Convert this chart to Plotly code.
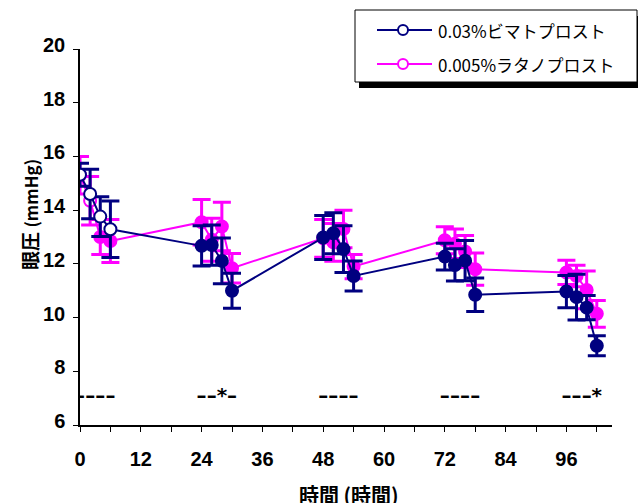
import plotly.graph_objects as go

# ---------------- data ----------------
times = [0, 2, 4, 6, 24, 26, 28, 30, 48, 50, 52, 54, 72, 74, 76, 78, 96, 98, 100, 102]

bim_mean = [15.32, 14.60, 13.76, 13.29, 12.67, 12.70, 12.11, 11.00,
            12.98, 13.14, 12.55, 11.55, 12.27, 11.96, 12.12, 10.85,
            10.97, 10.76, 10.37, 8.95]
bim_err = [0.43, 0.92, 0.74, 1.05, 0.75, 0.75, 0.85, 0.65,
           0.82, 0.76, 0.87, 0.56, 0.50, 0.60, 0.75, 0.62,
           0.60, 0.85, 0.45, 0.37]
bim_open = [True, True, True, True] + [False] * 16

lat_mean = [15.30, 14.35, 13.00, 12.85, 13.55, 12.90, 13.39, 11.84,
            12.95, 12.80, 13.30, 11.90, 12.88, 12.75, 12.46, 11.80,
            11.68, 11.55, 11.03, 10.14]
lat_err = [0.70, 0.90, 0.65, 0.80, 0.85, 0.80, 0.90, 0.55,
           0.70, 0.70, 0.70, 0.45, 0.50, 0.55, 0.60, 0.60,
           0.45, 0.40, 0.70, 0.50]
lat_open = [True, True] + [False] * 18

sig_marks = ["–", "–", "–", "–", "–", "–", "*", "–", "–", "–", "–", "–",
             "–", "–", "–", "–", "–", "–", "–", "*"]
sig_level = 7.05

names = ["0.03%ビマトプロスト", "0.005%ラタノプロスト"]
colors = ["#000080", "#FF00FF"]

x_ticks = [0, 12, 24, 36, 48, 60, 72, 84, 96]
y_ticks = [6, 8, 10, 12, 14, 16, 18, 20]

# ---------------- figure ----------------
fig = go.Figure()

def add_series(mean, err, open_flags, color):
    fill = ["white" if o else color for o in open_flags]
    fig.add_trace(go.Scatter(
        x=times, y=mean, mode="lines+markers",
        line=dict(color=color, width=2),
        marker=dict(size=12, color=fill, line=dict(color=color, width=2)),
        error_y=dict(type="data", array=err, visible=True,
                     color=color, thickness=3, width=9),
        showlegend=False, hoverinfo="skip"))

add_series(lat_mean, lat_err, lat_open, colors[1])
add_series(bim_mean, bim_err, bim_open, colors[0])

fig.add_trace(go.Scatter(
    x=times, y=[sig_level] * len(times), mode="text", text=sig_marks,
    textfont=dict(family="DejaVu Sans", size=20, color="black", weight="bold"),
    textposition="middle center", showlegend=False, hoverinfo="skip"))

tickfont = dict(family="Liberation Sans Narrow, Liberation Sans, Arial", size=20,
                color="black", weight="bold")

fig.update_xaxes(
    range=[0, 105], tickvals=x_ticks, ticks="outside", ticklen=5, tickwidth=1,
    tickcolor="black", showline=True, linecolor="black", linewidth=2,
    showgrid=False, zeroline=False, tickfont=tickfont, ticklabelstandoff=10,
    minor=dict(dtick=6, tick0=0, ticks="outside", ticklen=5, tickcolor="black"))
fig.update_yaxes(
    range=[6, 20], tickvals=y_ticks, ticks="outside", ticklen=5, tickwidth=1,
    tickcolor="black", showline=True, linecolor="black", linewidth=1.5,
    showgrid=False, zeroline=False, tickfont=tickfont, ticklabelstandoff=4,
    ticklabelshift=-4)

title_font = dict(family="Noto Sans CJK JP", size=19, color="black", weight="bold")
fig.add_annotation(xref="paper", yref="paper", x=-0.095, y=0.56,
                   text="眼圧 <span style='font-size:17px'>(mmHg)</span>",
                   textangle=-90, showarrow=False, font=title_font,
                   xanchor="center", yanchor="middle")
fig.add_annotation(xref="paper", yref="paper", x=0.505, y=-0.14, text="時間 (時間)",
                   showarrow=False, font=dict(title_font, size=20),
                   xanchor="center", yanchor="top")

# ---------------- legend (manual) ----------------
shapes = []
# shadow
shapes.append(dict(type="rect", xref="paper", yref="paper",
                   x0=(359 - 80) / 532, x1=(645 - 80) / 532,
                   y0=(425 - 88) / 376, y1=(425 - 16) / 376,
                   fillcolor="black", line=dict(width=0), layer="above"))
# box
shapes.append(dict(type="rect", xref="paper", yref="paper",
                   x0=(355 - 80) / 532, x1=(637 - 80) / 532,
                   y0=(425 - 82) / 376, y1=(425 - 10) / 376,
                   fillcolor="white", line=dict(color="black", width=1), layer="above"))
leg_y = [30, 64]
for name, col, ly in zip(names, colors, leg_y):
    yp = (425 - ly) / 376
    shapes.append(dict(type="line", xref="paper", yref="paper",
                       x0=(377 - 80) / 532, x1=(432 - 80) / 532, y0=yp, y1=yp,
                       line=dict(color=col, width=2), layer="above"))
    shapes.append(dict(type="circle", xref="paper", yref="paper",
                       x0=(398 - 80) / 532, x1=(408 - 80) / 532,
                       y0=(425 - ly - 5) / 376, y1=(425 - ly + 5) / 376,
                       fillcolor="white", line=dict(color=col, width=2), layer="above"))
    fig.add_annotation(xref="paper", yref="paper", x=(436 - 80) / 532, y=yp,
                       text=name, showarrow=False, xanchor="left", yanchor="middle",
                       font=dict(family="Noto Sans CJK JP", size=17, color="black"))

fig.update_layout(
    width=638, height=503, autosize=False,
    margin=dict(l=80, r=26, t=49, b=78),
    paper_bgcolor="white", plot_bgcolor="white",
    shapes=shapes)

fig.write_html("out.html")
